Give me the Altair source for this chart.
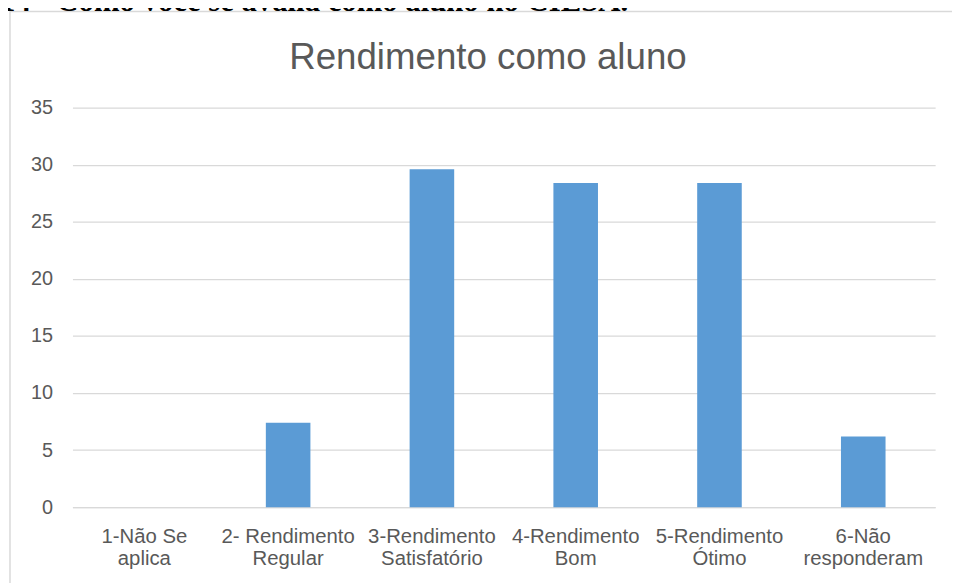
import altair as alt
import pandas as pd

categories = ["1-Não Se\naplica", "2- Rendimento\nRegular", "3-Rendimento\nSatisfatório",
              "4-Rendimento\nBom", "5-Rendimento\nÓtimo", "6-Não\nresponderam"]
values = [0, 7.4, 29.6, 28.4, 28.4, 6.2]
title_text = "Rendimento como aluno"
heading_text = "14 - Como você se avalia como aluno no CIESA."
y_ticks = [0, 5, 10, 15, 20, 25, 30, 35]

df = pd.DataFrame({"cat": categories, "val": values})
one = pd.DataFrame({"t": [title_text], "h": [heading_text]})

FONT = "Liberation Sans"
GRAY = "#595959"
GRID = "#d9d9d9"

border = alt.Chart(one).mark_rect(
    fillOpacity=0, stroke=GRID, strokeWidth=1.5
).encode(
    x=alt.value(-63), x2=alt.value(1000), y=alt.value(-97), y2=alt.value(700)
)

heading = alt.Chart(one).mark_text(
    font="Liberation Serif", fontWeight="bold", fontSize=31, align="left",
    baseline="alphabetic", color="black"
).encode(x=alt.value(-73), y=alt.value(-97.5), text="h:N")

title = alt.Chart(one).mark_text(
    font=FONT, fontSize=37, align="center", baseline="alphabetic", color=GRAY
).encode(x=alt.value(419), y=alt.value(-39), text="t:N")

bars = alt.Chart(df).mark_bar(color="#5b9bd5").encode(
    x=alt.X("cat:N", sort=categories, title=None,
            scale=alt.Scale(paddingInner=0.69, paddingOuter=0.345),
            axis=alt.Axis(labelAngle=0, labelExpr="split(datum.label, '\\n')",
                          labelFont=FONT, labelFontSize=20.5, labelColor=GRAY,
                          labelLineHeight=22, labelPadding=20, ticks=False,
                          domainColor=GRID, domainWidth=1, grid=False,
                          labelBaseline="top")),
    y=alt.Y("val:Q", title=None,
            scale=alt.Scale(domain=[0, 35], nice=False),
            axis=alt.Axis(values=y_ticks, labelFont=FONT, labelFontSize=20,
                          labelColor=GRAY, labelPadding=20, ticks=False,
                          domain=False, gridColor=GRID, gridWidth=1.2)),
)

chart = alt.layer(border, heading, title, bars).properties(
    width=870, height=403,
    autosize=alt.AutoSizeParams(type="none"),
    padding={"left": 65, "top": 98, "right": 17, "bottom": 74},
    background="white",
).configure_view(stroke=None)

chart.save("out.html", embed_options={"renderer": "svg", "actions": False})
